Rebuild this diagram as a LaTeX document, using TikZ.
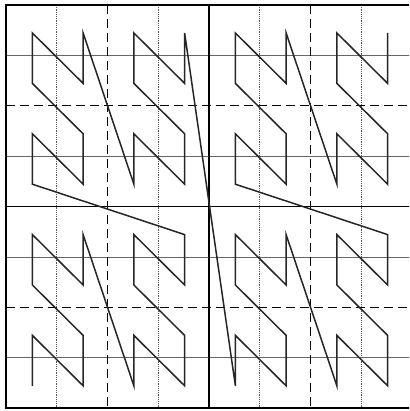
\documentclass[tikz,border=0pt]{standalone}
\begin{document}
\begin{tikzpicture}[x=1pt,y=-1pt,
  eighthv/.style={line width=0.9pt,black!65,dash pattern=on 1.2pt off 1pt},
  eighthh/.style={line width=0.9pt,black!60},
  quarter/.style={line width=1.3pt,black,dash pattern=on 9pt off 5pt},
  half/.style={line width=1.1pt,black},
  frame/.style={line width=2pt,black},
  curve/.style={line width=1.5pt,black!85,line join=miter}]
\useasboundingbox (0,0) rectangle (409,411);
\clip (0,0) rectangle (409,411);
\fill[white] (0,0) rectangle (409,411);
% grid: x from 6 to 412, y from 5 to 408
\def\cx{50.75}\def\cy{50.4}
\foreach \i in {1,3,5,7} {
  \draw[eighthv] ({6+\i*\cx},5) -- ({6+\i*\cx},408);
  \draw[eighthh] (6,{5+\i*\cy}) -- (412,{5+\i*\cy});
}
\foreach \i in {2,6} {
  \draw[quarter] ({6+\i*\cx},5) -- ({6+\i*\cx},408);
  \draw[quarter] (6,{5+\i*\cy}) -- (412,{5+\i*\cy});
}
\draw[half] ({6+4*\cx},5) -- ({6+4*\cx},408);
\draw[half] (6,{5+4*\cy}) -- (412,{5+4*\cy});
\draw[frame] (6,5) rectangle (412,408);
% N-order curve points
\foreach \k in {0,...,63} {
  \pgfmathtruncatemacro\ci{mod(floor(\k/2),2)+2*mod(floor(\k/8),2)+4*mod(floor(\k/32),2)}
  \pgfmathtruncatemacro\ri{mod(\k,2)+2*mod(floor(\k/4),2)+4*mod(floor(\k/16),2)}
  \coordinate (p\k) at ({6+(\ci+0.5)*\cx+1},{408-(\ri+0.5)*\cy+3});
}
\draw[curve] (p0) \foreach \k in {1,...,63} { -- (p\k) };
\end{tikzpicture}
\end{document}
